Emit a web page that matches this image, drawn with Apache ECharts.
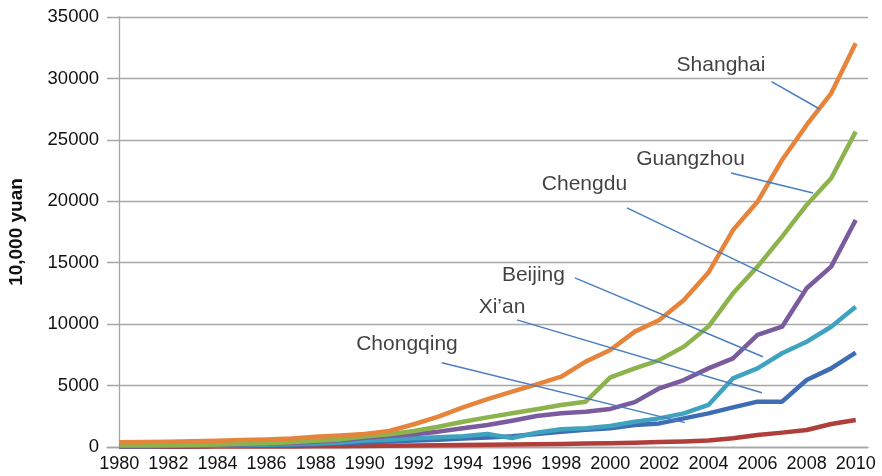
<!DOCTYPE html>
<html>
<head>
<meta charset="utf-8">
<script src="https://cdn.jsdelivr.net/npm/echarts@6/dist/echarts.min.js"></script>
<style>html,body{margin:0;padding:0;background:#fff;}#c{width:882px;height:476px;}</style>
</head>
<body>
<div id="c"></div>
<script>
var years = ['1980','1981','1982','1983','1984','1985','1986','1987','1988','1989','1990','1991','1992','1993','1994','1995','1996','1997','1998','1999','2000','2001','2002','2003','2004','2005','2006','2007','2008','2009','2010'];
var shanghai  = [390,410,430,460,510,580,620,700,830,940,1050,1300,1850,2470,3230,3900,4500,5100,5720,6950,7900,9390,10340,11970,14200,17660,19970,23360,26210,28790,32860];
var guangzhou = [120,130,150,170,200,260,300,380,500,620,850,1030,1300,1650,2060,2410,2740,3070,3420,3690,5670,6400,7080,8170,9800,12510,14680,17120,19700,21870,25670];
var chengdu   = [110,120,135,150,180,220,260,330,420,550,750,900,1030,1250,1520,1790,2140,2520,2740,2870,3100,3650,4780,5450,6400,7220,9120,9790,12920,14680,18480];
var beijing   = [80,90,100,120,140,160,190,230,280,360,520,600,720,800,880,1060,720,1170,1440,1520,1710,2060,2330,2740,3420,5590,6400,7630,8570,9790,11420];
var xian      = [60,70,80,90,110,130,150,180,220,290,380,450,520,600,690,780,880,1060,1250,1400,1520,1790,1920,2330,2740,3230,3690,3690,5450,6400,7680];
var chongqing = [20,20,25,30,35,40,45,50,60,70,80,100,120,140,160,180,200,220,250,280,310,350,400,450,530,710,980,1170,1380,1870,2200];
var yTicks = [0,5000,10000,15000,20000,25000,30000,35000];

// annotation labels (in data space: x = year index, y = value)
var annoNames = ['Shanghai','Guangzhou','Chengdu','Beijing','Xi\u2019an','Chongqing'];
var annoText  = [[24.51,31117],[23.27,23448],[18.95,21398],[16.87,13973],[15.59,11370],[11.72,8401]];
var annoStart = [[26.57,29735],[24.92,22309],[20.68,19462],[18.56,13769],[16.20,10348],[13.14,6865]];
var annoEnd   = [[28.53,27513],[28.26,20682],[27.81,12631],[26.22,7344],[26.18,4411],[23.04,1985]];

var FONT = '"Liberation Sans", Arial, Helvetica, sans-serif';
var TXT = '#111111';
var chart = echarts.init(document.getElementById('c'), null, {renderer:'canvas'});

function lineSeries(name, data, color){
  return {name:name, type:'line', data:data, symbol:'none', smooth:false,
    lineStyle:{color:color, width:4.5, join:'round'}, itemStyle:{color:color}, z:2, animation:false};
}

chart.setOption({
  animation:false,
  backgroundColor:'#ffffff',
  grid:{left:107, right:14, top:17, bottom:29, containLabel:false, outerBoundsMode:'none'},
  xAxis:[{
    type:'category', data:years, boundaryGap:true,
    axisLine:{show:true, lineStyle:{color:'#a6a6a6', width:1.3}},
    axisTick:{show:false},
    axisLabel:{interval:1, color:TXT, fontSize:18, fontFamily:FONT, margin:8},
    splitLine:{show:false}
  },{
    type:'value', min:-0.5, max:years.length-0.5, show:false
  }],
  yAxis:{
    type:'value', min:yTicks[0], max:yTicks[yTicks.length-1], interval:5000,
    name:'10,000 yuan', nameLocation:'middle', nameGap:81, nameRotate:90,
    nameTextStyle:{fontSize:19, fontWeight:'bold', color:TXT, fontFamily:FONT},
    axisLine:{show:true, lineStyle:{color:'#a6a6a6', width:1.3}},
    axisTick:{show:false},
    axisLabel:{color:TXT, fontSize:18.5, fontFamily:FONT, margin:8, formatter:function(v){return String(v);}},
    splitLine:{show:true, lineStyle:{color:'#a6a6a6', width:1.3}}
  },
  series:[
    lineSeries('Chongqing', chongqing, '#B03F3C'),
    lineSeries('Xi\u2019an', xian, '#3E6DB3'),
    lineSeries('Beijing', beijing, '#3FA2BF'),
    lineSeries('Chengdu', chengdu, '#7A5B9E'),
    lineSeries('Guangzhou', guangzhou, '#8CB34C'),
    lineSeries('Shanghai', shanghai, '#E5843A'),
    {
      type:'lines', coordinateSystem:'cartesian2d', xAxisIndex:1, yAxisIndex:0,
      data: annoStart.map(function(s,i){ return {coords:[s, annoEnd[i]]}; }),
      lineStyle:{color:'#4A7EBF', width:1.5, opacity:1, curveness:0},
      z:5, silent:true, animation:false
    },
    {
      type:'scatter', xAxisIndex:1, yAxisIndex:0, symbolSize:0,
      data: annoText.map(function(p,i){ return {name:annoNames[i], value:p}; }),
      label:{show:true, position:'inside', formatter:'{b}', color:TXT, fontSize:21, fontFamily:FONT, align:'center', verticalAlign:'middle'},
      z:6, silent:true, animation:false
    }
  ]
});
</script>
</body>
</html>
